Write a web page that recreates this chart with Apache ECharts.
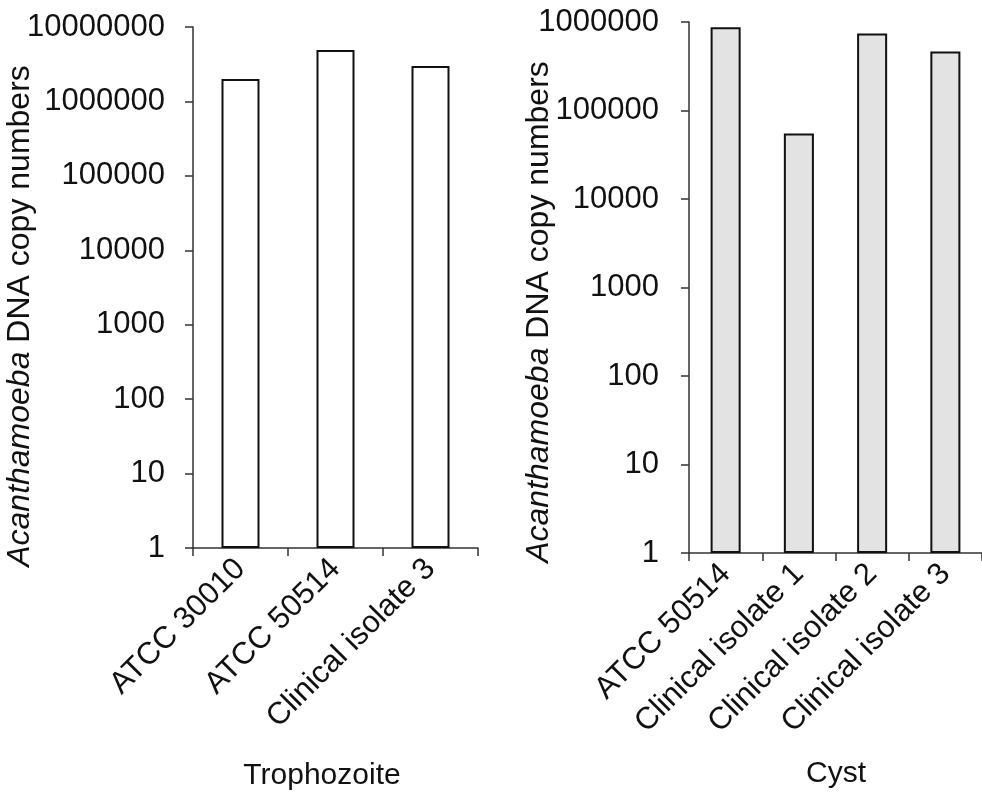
<!DOCTYPE html>
<html>
<head>
<meta charset="utf-8">
<script src="https://cdn.jsdelivr.net/npm/echarts@6/dist/echarts.min.js"></script>
<style>
  html, body { margin: 0; padding: 0; background: #fff; }
  #chart { width: 982px; height: 811px; }
</style>
</head>
<body>
<div id="chart"></div>
<script>
const trophCategories = ['ATCC 30010', 'ATCC 50514', 'Clinical isolate 3']
const trophValues = [2000000, 4900000, 3000000]
const cystCategories = ['ATCC 50514', 'Clinical isolate 1', 'Clinical isolate 2', 'Clinical isolate 3']
const cystValues = [870000, 55000, 740000, 465000]
const stageLabels = ['Trophozoite', 'Cyst']
const yTitle = '{i|Acanthamoeba} DNA copy numbers'

const font = '"Liberation Sans", Arial, sans-serif'
const ink = '#111'
const axisColor = '#333'

const chart = echarts.init(document.getElementById('chart'), null, { renderer: 'canvas' })

function valueAxis(gridIndex, max, margin) {
  return {
    type: 'log',
    logBase: 10,
    gridIndex,
    min: 1,
    max,
    interval: 1,
    axisLine: { show: true, lineStyle: { color: axisColor, width: 1.5 } },
    axisTick: { show: true, inside: false, length: 8, lineStyle: { color: axisColor, width: 1.5 } },
    axisLabel: {
      color: ink,
      fontSize: 31,
      fontFamily: font,
      margin,
      formatter: (value) => String(Math.round(value)),
    },
    splitLine: { show: false },
  }
}

function categoryAxis(gridIndex, data) {
  return {
    type: 'category',
    gridIndex,
    data,
    boundaryGap: true,
    axisLine: { show: true, lineStyle: { color: axisColor, width: 1.5 } },
    axisTick: { show: true, length: 8, alignWithLabel: false, lineStyle: { color: axisColor, width: 1.5 } },
    axisLabel: {
      color: ink,
      fontSize: 31,
      fontFamily: font,
      rotate: 45,
      margin: 16,
      interval: 0,
    },
  }
}

function titleText(x, y) {
  return {
    type: 'text',
    x,
    y,
    rotation: Math.PI / 2,
    style: {
      text: yTitle,
      fill: ink,
      font: `32px ${font}`,
      align: 'center',
      verticalAlign: 'middle',
      rich: { i: { fontStyle: 'italic', fontSize: 32, fontFamily: font, fill: ink } },
    },
  }
}

function stageText(x, y, text) {
  return {
    type: 'text',
    x,
    y,
    style: { text, fill: ink, font: `30px ${font}`, align: 'center', verticalAlign: 'middle' },
  }
}

chart.setOption({
  backgroundColor: '#fff',
  animation: false,
  grid: [
    { left: 193, right: 504, top: 27, bottom: 263, containLabel: false },
    { left: 689, right: -8, top: 22, bottom: 258, containLabel: false },
  ],
  xAxis: [categoryAxis(0, trophCategories), categoryAxis(1, cystCategories)],
  yAxis: [valueAxis(0, 10000000, 28), valueAxis(1, 1000000, 30)],
  series: [
    {
      name: stageLabels[0],
      type: 'bar',
      xAxisIndex: 0,
      yAxisIndex: 0,
      data: trophValues,
      barWidth: '40%',
      itemStyle: { color: '#fff', borderColor: '#111', borderWidth: 2 },
    },
    {
      name: stageLabels[1],
      type: 'bar',
      xAxisIndex: 1,
      yAxisIndex: 1,
      data: cystValues,
      barWidth: '41%',
      itemStyle: { color: '#e3e3e3', borderColor: '#111', borderWidth: 2 },
    },
  ],
  graphic: [
    titleText(20, 316),
    titleText(539, 312),
    stageText(322, 776, stageLabels[0]),
    stageText(836, 774, stageLabels[1]),
  ],
})
</script>
</body>
</html>
